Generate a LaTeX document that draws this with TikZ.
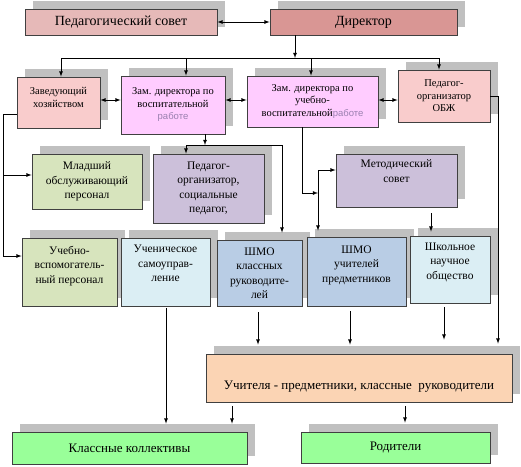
\documentclass[tikz,border=0pt]{standalone}
\usepackage{fontspec}
\setmainfont{Liberation Serif}
\newfontfamily\rabfont{Liberation Sans}
\usetikzlibrary{arrows,shadows}

\definecolor{shgray}{HTML}{C0C0C0}
\definecolor{pedcol}{HTML}{E6B9B8}
\definecolor{dircol}{HTML}{D99694}
\definecolor{pinkcol}{HTML}{F9CCCC}
\definecolor{zamcol}{HTML}{FFCCFF}
\definecolor{olivecol}{HTML}{D7E4BD}
\definecolor{lavcol}{HTML}{CCC0DA}
\definecolor{skycol}{HTML}{DBEEF4}
\definecolor{steelcol}{HTML}{B9CDE5}
\definecolor{peachcol}{HTML}{FBD4B4}
\definecolor{grncol}{HTML}{99FF99}
\definecolor{rabcol}{HTML}{9A80B0}

\newcommand\fsTop{\fontsize{14}{16}\selectfont}
\newcommand\fsMid{\fontsize{10.5}{12.5}\selectfont}
\newcommand\fsLow{\fontsize{11.5}{14.5}\selectfont}
\newcommand\fsBot{\fontsize{13}{15}\selectfont}
\newcommand\rab{{\rabfont\color{rabcol}\fontsize{9.5}{12}\selectfont работе}}

\tikzset{
  blk/.style={draw=black!75, line width=0.8pt, align=center, inner sep=2pt,
    font=\rmfamily,
    drop shadow={shadow xshift=8pt, shadow yshift=8pt, fill=shgray, opacity=1}},
  lift/.style={text depth=#1},
  con/.style={line width=0.8pt, ->},
  gap/.style={shorten >=#1}
}

\begin{document}
\begin{tikzpicture}[x=1pt, y=-1pt, >=latex]
  \useasboundingbox (0,0) rectangle (521,466);

  % top row
  \node[blk, fill=pedcol, minimum width=192pt, minimum height=26pt, font=\fsTop] (ped) at (121,22) {Педагогический совет};
  \node[blk, fill=dircol, minimum width=187pt, minimum height=26pt, font=\fsTop] (dir) at (363.5,22) {Директор};

  % deputies
  \node[blk, fill=pinkcol, minimum width=83pt, minimum height=51pt, font=\fsMid, lift=10pt] (zav) at (58.5,102.5) {Заведующий\\хозяйством};
  \node[blk, fill=zamcol, minimum width=104pt, minimum height=58pt, font=\fsMid] (zamv) at (173,105) {Зам. директора по\\воспитательной\\\rab};
  \node[blk, fill=zamcol, minimum width=131pt, minimum height=51pt, font=\fsMid] (zamu) at (312.5,101.5) {Зам. директора по\\учебно-\\воспитательной\rab};
  \node[blk, fill=pinkcol, minimum width=92pt, minimum height=52pt, font=\fsMid] (obzh) at (444,96) {Педагог-\\организатор\\ОБЖ};

  % middle row
  \node[blk, fill=olivecol, minimum width=110pt, minimum height=55pt, font=\fsLow] (mlad) at (87,181.5) {Младший\\обслуживающий\\персонал};
  \node[blk, fill=lavcol, minimum width=111pt, minimum height=69pt, font=\fsLow] (pedorg) at (208.5,188.5) {Педагог-\\организатор,\\социальные\\педагог,};
  \node[blk, fill=lavcol, minimum width=121pt, minimum height=53pt, font=\fsLow, lift=19pt] (metod) at (396.5,180.5) {Методический\\совет};

  % lower row
  \node[blk, fill=olivecol, minimum width=95pt, minimum height=68pt, font=\fsLow, lift=15pt] (ucheb) at (69.5,272) {Учебно-\\вспомогатель-\\ный персонал};
  \node[blk, fill=skycol, minimum width=89pt, minimum height=68pt, font=\fsLow, lift=17pt] (samoupr) at (165.5,272) {Ученическое\\самоуправ-\\ление};
  \node[blk, fill=steelcol, minimum width=85pt, minimum height=66pt, font=\fsLow] (shmok) at (259.5,273) {ШМО\\классных\\руководите-\\лей};
  \node[blk, fill=steelcol, minimum width=99pt, minimum height=69pt, font=\fsLow, lift=15pt] (shmou) at (356.5,271.5) {ШМО\\учителей\\предметников};
  \node[blk, fill=skycol, minimum width=80pt, minimum height=67pt, font=\fsLow, lift=17pt] (shkol) at (450,269.5) {Школьное\\научное\\общество};

  % teachers and bottom
  \node[blk, fill=peachcol, minimum width=306pt, minimum height=48pt, font=\fsBot, text height=25pt] (uchit) at (359,378) {Учителя - предметники, классные \ руководители};
  \node[blk, fill=grncol, minimum width=235pt, minimum height=32pt, font=\fsBot] (klass) at (129.5,448) {Классные коллективы};
  \node[blk, fill=grncol, minimum width=189pt, minimum height=31pt, font=\fsBot] (rodit) at (395.5,447.5) {Родители};

  % director bus
  \coordinate (bd) at (295,58);
  \coordinate (b1) at (61,58);
  \coordinate (b2) at (186,58);
  \coordinate (b3) at (311,58);
  \coordinate (b4) at (439,58);
  \draw[con, <->] (ped.east) -- (dir.west);
  \draw[con] (dir.south -| bd) -- (bd);
  \draw[line width=0.8pt] (b1) -- (b4);
  \draw[con] (b1) -- (zav.north -| b1);
  \draw[con] (b2) -- (zamv.north -| b2);
  \draw[con] (b3) -- (zamu.north -| b3);
  \draw[con] (b4) -- (obzh.north -| b4);

  % links between deputies
  \coordinate (row) at (0,100);
  \draw[con, <->] (zav.east |- row) -- (zamv.west |- row);
  \draw[con, <->] (zamv.east |- row) -- (zamu.west |- row);
  \draw[con, <->] (zamu.east |- row) -- (obzh.west |- row);

  % left side
  \coordinate (l1) at (3,114);
  \coordinate (l2) at (3,175);
  \coordinate (l3) at (3,256);
  \draw[line width=0.8pt] (zav.west |- l1) -- (l1) -- (l3);
  \draw[con] (l2) -- (mlad.west |- l2);
  \draw[con] (l3) -- (ucheb.west |- l3);

  % right side
  \coordinate (r1) at (498,96);
  \draw[con, gap=10pt] (obzh.east |- r1) -- (r1) -- (uchit.north -| r1);

  % from the first deputy
  \coordinate (p1) at (205,145);
  \coordinate (p2) at (186,145);
  \coordinate (p3) at (282,145);
  \draw[con] (zamv.south -| p1) -- (p1);
  \draw[line width=0.8pt] (p2) -- (p3);
  \draw[con] (p2) -- (pedorg.north -| p2);
  \draw[con, gap=7pt] (p3) -- (shmok.north -| p3);

  % from the second deputy
  \coordinate (m1) at (302,193);
  \coordinate (m2) at (318,193);
  \coordinate (m3) at (318,170);
  \draw[con] (zamu.south -| m1) -- (m1) -- (m2);
  \draw[con] (m3) -- (metod.west |- m3);
  \draw[con, gap=6pt] (m3) -- (shmou.north -| m3);
  \coordinate (k1) at (431,0);
  \draw[con, gap=4pt, shorten <=6pt] (metod.south -| k1) -- (shkol.north -| k1);

  % down to teachers
  \coordinate (d1) at (258,0);
  \coordinate (d2) at (350,0);
  \coordinate (d3) at (444,0);
  \draw[con, gap=9pt, shorten <=6pt] (shmok.south -| d1) -- (uchit.north -| d1);
  \draw[con, gap=9pt, shorten <=5pt] (shmou.south -| d2) -- (uchit.north -| d2);
  \draw[con, gap=14pt, shorten <=4pt] (shkol.south -| d3) -- (uchit.north -| d3);

  % bottom
  \coordinate (e1) at (166,0);
  \coordinate (e2) at (232,0);
  \coordinate (e3) at (405,0);
  \draw[con, gap=8pt, shorten <=2pt] (samoupr.south -| e1) -- (klass.north -| e1);
  \draw[con, gap=8pt, shorten <=4pt] (uchit.south -| e2) -- (klass.north -| e2);
  \draw[con, gap=9pt, shorten <=4pt] (uchit.south -| e3) -- (rodit.north -| e3);
\end{tikzpicture}
\end{document}
